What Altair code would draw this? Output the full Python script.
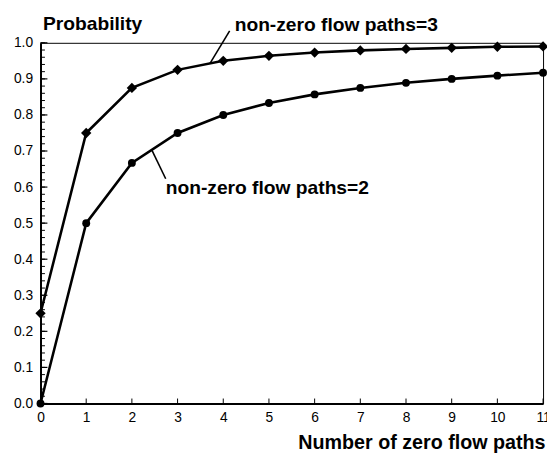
import altair as alt
import pandas as pd

# data
n_zero = [0, 1, 2, 3, 4, 5, 6, 7, 8, 9, 10, 11]
p_nonzero2 = [0.0, 0.5, 0.667, 0.75, 0.8, 0.833, 0.857, 0.875, 0.889, 0.9, 0.909, 0.917]
p_nonzero3 = [0.25, 0.75, 0.875, 0.925, 0.95, 0.964, 0.973, 0.979, 0.983, 0.986, 0.989, 0.99]

y_major = [0.0, 0.1, 0.2, 0.3, 0.4, 0.5, 0.6, 0.7, 0.8, 0.9, 1.0]
y_minor = [round(i * 0.02, 2) for i in range(51)]
x_ticks = list(range(12))

ann_text = ["non-zero flow paths=3", "non-zero flow paths=2"]
ann_tx = [4.25, 2.74]
ann_ty = [1.033, 0.582]
lead_x = [4.14, 2.44]
lead_y = [1.033, 0.702]
lead_x2 = [3.71, 2.74]
lead_y2 = [0.943, 0.623]

FONT = "Liberation Sans"
W, H = 510, 366
X_MAX, Y_MAX = 11.0, 1.0
# tick lengths in pixels, converted to data units
MAJ_LEN = 7 * X_MAX / W
MIN_LEN = 4.5 * X_MAX / W
XT_LEN = 5 * Y_MAX / H

df2 = pd.DataFrame({"n": n_zero, "p": p_nonzero2})
df3 = pd.DataFrame({"n": n_zero, "p": p_nonzero3})
ann = pd.DataFrame({"t": ann_text, "x": ann_tx, "y": ann_ty})
lead = pd.DataFrame({"x": lead_x, "y": lead_y, "x2": lead_x2, "y2": lead_y2})
ymaj_df = pd.DataFrame({"ty": y_major, "tx": [0.0] * len(y_major), "tx2": [MAJ_LEN] * len(y_major)})
ymin_df = pd.DataFrame({"ty": y_minor, "tx": [0.0] * len(y_minor), "tx2": [MIN_LEN] * len(y_minor)})
xt_df = pd.DataFrame({"tx": [float(v) for v in x_ticks], "ty": [0.0] * len(x_ticks), "ty2": [XT_LEN] * len(x_ticks)})

xs = alt.Scale(domain=[0, X_MAX], nice=False, zero=False)
ys = alt.Scale(domain=[0, Y_MAX], nice=False)

xax = alt.Axis(values=x_ticks, ticks=False, tickSize=0, labelPadding=7, grid=False,
               title="Number of zero flow paths", titleAnchor="end", titleAlign="right",
               titleX=W + 2, titleY=46, titleBaseline="alphabetic",
               titleFontSize=20, titleFontWeight="bold", labelFontSize=14,
               domainWidth=2, domainColor="black", labelColor="black", titleColor="black",
               labelFlush=False, labelOverlap=False)
yax = alt.Axis(values=y_major, format=".1f", ticks=False, tickSize=0, labelPadding=8, grid=False,
               title="Probability", titleAngle=0, titleAlign="left", titleX=2, titleY=-13,
               titleBaseline="alphabetic", titleFontSize=19.5, titleFontWeight="bold",
               labelFontSize=14, domainWidth=2, domainColor="black", labelColor="black",
               titleColor="black", labelFlush=False, labelOverlap=False)

X = alt.X("n:Q", scale=xs, axis=xax)
Y = alt.Y("p:Q", scale=ys, axis=yax)

line2 = alt.Chart(df2).mark_line(color="black", strokeWidth=2.6).encode(x=X, y=Y)
pts2 = alt.Chart(df2).mark_point(shape="circle", filled=True, size=64, color="black", opacity=1).encode(x=X, y=Y)
line3 = alt.Chart(df3).mark_line(color="black", strokeWidth=2.6).encode(x=X, y=Y)
pts3 = alt.Chart(df3).mark_point(shape="diamond", filled=True, size=110, color="black", opacity=1).encode(x=X, y=Y)

ymaj = alt.Chart(ymaj_df).mark_rule(color="black", strokeWidth=1.2).encode(
    x=alt.X("tx:Q", scale=xs, axis=xax), x2="tx2:Q", y=alt.Y("ty:Q", scale=ys, axis=yax), y2="ty:Q")
ymin = alt.Chart(ymin_df).mark_rule(color="black", strokeWidth=1).encode(
    x=alt.X("tx:Q", scale=xs, axis=xax), x2="tx2:Q", y=alt.Y("ty:Q", scale=ys, axis=yax), y2="ty:Q")
xt = alt.Chart(xt_df).mark_rule(color="black", strokeWidth=1).encode(
    x=alt.X("tx:Q", scale=xs, axis=xax), x2="tx:Q", y=alt.Y("ty:Q", scale=ys, axis=yax), y2="ty2:Q")

leaders = alt.Chart(lead).mark_rule(color="black", strokeWidth=1.6).encode(
    x=alt.X("x:Q", scale=xs, axis=xax), y=alt.Y("y:Q", scale=ys, axis=yax), x2="x2:Q", y2="y2:Q")
texts = alt.Chart(ann).mark_text(align="left", baseline="alphabetic", font=FONT, fontSize=19.5,
                                 fontWeight="bold", color="black").encode(
    x=alt.X("x:Q", scale=xs, axis=xax), y=alt.Y("y:Q", scale=ys, axis=yax), text="t:N")

chart = alt.layer(ymin, ymaj, xt, line2, line3, pts2, pts3, leaders, texts).properties(
    width=W, height=H,
    autosize=alt.AutoSizeParams(type="none"),
    padding={"left": 33, "top": 32, "right": 4, "bottom": 51},
).configure(font=FONT).configure_axis(labelOverlap=False).configure_view(stroke="black", strokeWidth=1)

chart.save("out.html", embed_options={"renderer": "svg", "actions": False})
